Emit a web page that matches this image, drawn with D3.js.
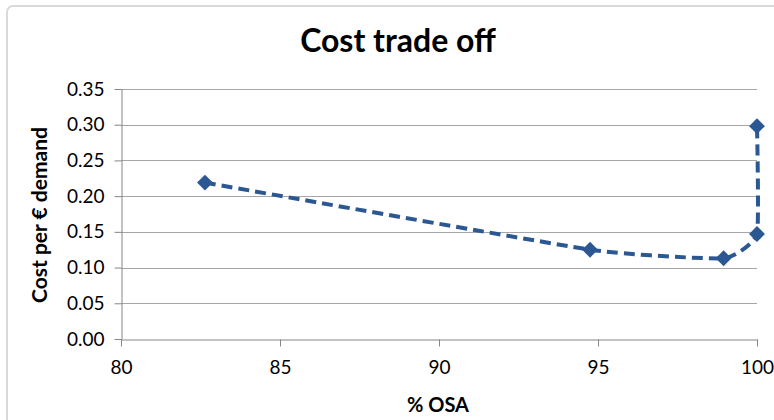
<!DOCTYPE html>
<html><head><meta charset="utf-8">
<script src="https://cdn.jsdelivr.net/npm/d3@7"></script>
<style>html,body{margin:0;padding:0;background:#fff;}svg{display:block;}</style>
</head><body><svg id="c" width="774" height="420"></svg>
<script>
const osa = [82.64, 94.75, 98.95, 100, 100];
const cost = [0.219, 0.125, 0.113, 0.147, 0.298];
const xTicks = [80, 85, 90, 95, 100];
const yTicks = [0, 0.05, 0.10, 0.15, 0.20, 0.25, 0.30, 0.35];
const title = "Cost trade off";
const xTitle = "% OSA";
const yTitle = "Cost per € demand";

const svg = d3.select("#c");
const font = "Lato, 'Open Sans', sans-serif";
const col = "#2B5793";
const L = 121, R = 757, T = 89, B = 339;
const x = d3.scaleLinear().domain([80, 100]).range([L, R]);
const y = d3.scaleLinear().domain([0, 0.35]).range([B, T]);

svg.append("rect").attr("x", 7).attr("y", 6).attr("width", 780).attr("height", 430)
  .attr("rx", 6).attr("fill", "#fff").attr("stroke", "#d9d9d9").attr("stroke-width", 2);

svg.append("g").selectAll("line").data(yTicks.filter(d => d > 0)).join("line")
  .attr("x1", L).attr("x2", R).attr("y1", d => Math.round(y(d)) + 0.5).attr("y2", d => Math.round(y(d)) + 0.5)
  .attr("stroke", "#a6a6a6").attr("stroke-width", 1);

const yAxis = svg.append("g").attr("transform", `translate(${L + 0.5},0)`)
  .call(d3.axisLeft(y).tickValues(yTicks).tickFormat(d3.format(".2f")).tickSize(7).tickSizeOuter(0).tickPadding(10));
const xAxis = svg.append("g").attr("transform", `translate(0,${B + 0.5})`)
  .call(d3.axisBottom(x).tickValues(xTicks).tickFormat(d3.format("d")).tickSize(7).tickSizeOuter(0).tickPadding(14));
[yAxis, xAxis].forEach(a => {
  a.selectAll("path,line").attr("stroke", "#868686");
  a.selectAll("text").attr("font-family", font).attr("font-size", 19).attr("fill", "#000");
});

const pts = osa.map((v, i) => [x(v), y(cost[i])]);
svg.append("path").datum(pts)
  .attr("d", d3.line().curve(d3.curveCardinal.tension(0.6)))
  .attr("fill", "none").attr("stroke", col).attr("stroke-width", 4).attr("stroke-dasharray", "11,6");

svg.append("g").selectAll("path").data(pts).join("path")
  .attr("transform", d => `translate(${d[0]},${d[1]}) rotate(45)`)
  .attr("d", "M-5.6,-5.6H5.6V5.6H-5.6Z").attr("fill", col);

svg.append("text").attr("x", 398).attr("y", 52).attr("text-anchor", "middle")
  .attr("font-family", font).attr("font-weight", "bold").attr("font-size", 32).text(title);
svg.append("text").attr("x", 438).attr("y", 412).attr("text-anchor", "middle")
  .attr("font-family", font).attr("font-weight", "bold").attr("font-size", 20).text(xTitle);
svg.append("text").attr("transform", "translate(47,215) rotate(-90)").attr("text-anchor", "middle")
  .attr("font-family", font).attr("font-weight", "bold").attr("font-size", 21).text(yTitle);
</script></body></html>
